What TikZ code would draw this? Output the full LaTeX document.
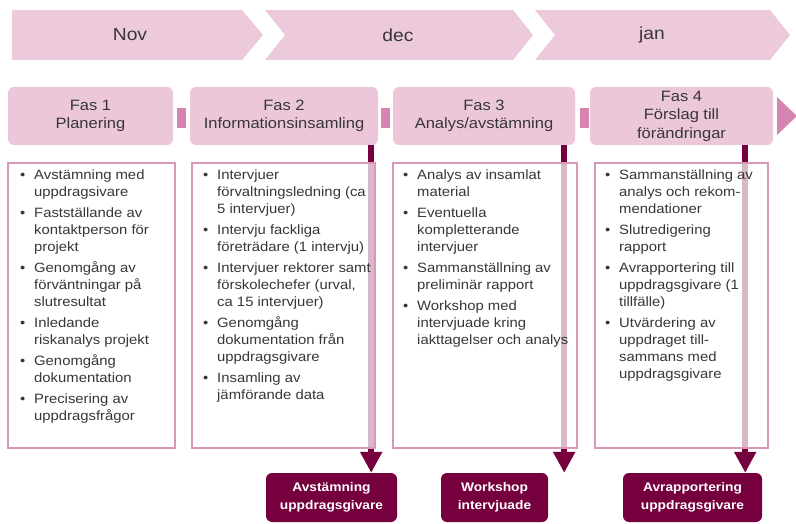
\documentclass[tikz,border=0pt]{standalone}
\usepackage{fontspec}
\setmainfont{Liberation Sans}[FakeStretch=1.1]
\usetikzlibrary{calc,arrows.meta}
\definecolor{chev}{RGB}{237,201,220}
\definecolor{phasecol}{RGB}{235,199,217}
\definecolor{conncol}{RGB}{214,132,176}
\definecolor{darkmaroon}{RGB}{118,0,62}
\definecolor{cborder}{RGB}{215,152,188}
\definecolor{txtgray}{RGB}{55,55,55}
\newcommand\bu{\makebox[14pt][l]{•}}
\newcommand\ind{\hspace*{14pt}}
\tikzset{
  phasebox/.style={fill=phasecol, rounded corners=6pt, minimum height=58pt, align=center,
    text=txtgray, font=\fontsize{15}{18.5}\selectfont, inner sep=0pt},
  connsq/.style={fill=conncol, minimum width=9pt, minimum height=20pt, inner sep=0pt},
  contentbox/.style={draw=cborder, line width=1.4pt, fill=white, fill opacity=0.72, inner sep=0pt},
  listtext/.style={anchor=north west, align=left, inner sep=0pt, text=txtgray,
    font=\fontsize{13.5}{17}\selectfont},
  milestone/.style={fill=darkmaroon, rounded corners=6pt, minimum height=49pt, align=center,
    text=white, font=\bfseries\fontsize{12.5}{17.5}\selectfont, inner sep=0pt},
  monthtext/.style={text=txtgray, font=\fontsize{17.5}{20}\selectfont, inner sep=0pt},
  msline/.style={draw=darkmaroon, line width=6pt, -{Triangle[width=21pt,length=21pt]}},
}
\begin{document}
\begin{tikzpicture}[x=1pt,y=-1pt]
\useasboundingbox (0,0) rectangle (796,524);
% month chevrons
\fill[chev] (12,10) -- (242,10) -- (263,35) -- (242,60) -- (12,60) -- cycle;
\fill[chev] (265,10) -- (513,10) -- (533,35) -- (513,60) -- (265,60) -- (285,35) -- cycle;
\fill[chev] (535,10) -- (770,10) -- (790,35) -- (770,60) -- (535,60) -- (555,35) -- cycle;
\node[monthtext] (nov) at (130,35) {Nov};
\node[monthtext] (dec) at (398,35) {dec};
\node[monthtext] (jan) at (652,35) {jan};
% milestones
\node[milestone, minimum width=131pt] (m2) at (331.5,497.5) {Avstämning\\uppdragsgivare};
\node[milestone, minimum width=107pt] (m3) at (494.5,497.5) {Workshop\\intervjuade};
\node[milestone, minimum width=139pt] (m4) at (692.5,497.5) {Avrapportering\\uppdragsgivare};
% phases
\node[phasebox, minimum width=165pt] (p1) at (90.5,116) {Fas 1\\Planering};
\node[phasebox, minimum width=188pt] (p2) at (284,116) {Fas 2\\Informationsinsamling};
\node[phasebox, minimum width=182pt] (p3) at (484,116) {Fas 3\\Analys/avstämning};
\node[phasebox, minimum width=183pt] (p4) at (681.5,116) {Fas 4\\Förslag till\\förändringar};
\node[connsq] (s12) at (181,118) {};
\node[connsq] (s23) at (385,118) {};
\node[connsq] (s34) at (584,118) {};
\fill[conncol] (777,97) -- (797,116) -- (777,135) -- cycle;
\coordinate (a2) at ($(p2.south east)+(-7,0)$);
\coordinate (a3) at ($(p3.south east)+(-11,0)$);
\coordinate (a4) at ($(p4.south east)+(-28,0)$);
\draw[msline] (a2) -- (a2 |- m2.north);
\draw[msline] (a3) -- (a3 |- m3.north);
\draw[msline] (a4) -- (a4 |- m4.north);
% content boxes
\node[contentbox, minimum width=167pt, minimum height=285pt] (c1) at (91.5,305.5) {};
\node[contentbox, minimum width=183pt, minimum height=285pt] (c2) at (283.5,305.5) {};
\node[contentbox, minimum width=184pt, minimum height=285pt] (c3) at (485,305.5) {};
\node[contentbox, minimum width=173pt, minimum height=285pt] (c4) at (681.5,305.5) {};
\node[listtext] (t1) at (20,170) {\bu Avstämning med\\ \ind uppdragsivare\\[4pt]
\bu Fastställande av\\ \ind kontaktperson för\\ \ind projekt\\[4pt]
\bu Genomgång av\\ \ind förväntningar på\\ \ind slutresultat\\[4pt]
\bu Inledande\\ \ind riskanalys projekt\\[4pt]
\bu Genomgång\\ \ind dokumentation\\[4pt]
\bu Precisering av\\ \ind uppdragsfrågor};
\node[listtext] (t2) at (203,170) {\bu Intervjuer\\ \ind förvaltningsledning (ca\\ \ind 5 intervjuer)\\[4pt]
\bu Intervju fackliga\\ \ind företrädare (1 intervju)\\[4pt]
\bu Intervjuer rektorer samt\\ \ind förskolechefer (urval,\\ \ind ca 15 intervjuer)\\[4pt]
\bu Genomgång\\ \ind dokumentation från\\ \ind uppdragsgivare\\[4pt]
\bu Insamling av\\ \ind jämförande data};
\node[listtext] (t3) at (403,170) {\bu Analys av insamlat\\ \ind material\\[4pt]
\bu Eventuella\\ \ind kompletterande\\ \ind intervjuer\\[4pt]
\bu Sammanställning av\\ \ind preliminär rapport\\[4pt]
\bu Workshop med\\ \ind intervjuade kring\\ \ind iakttagelser och analys};
\node[listtext] (t4) at (605,170) {\bu Sammanställning av\\ \ind analys och rekom-\\ \ind mendationer\\[4pt]
\bu Slutredigering\\ \ind rapport\\[4pt]
\bu Avrapportering till\\ \ind uppdragsgivare (1\\ \ind tillfälle)\\[4pt]
\bu Utvärdering av\\ \ind uppdraget till-\\ \ind sammans med\\ \ind uppdragsgivare};
\end{tikzpicture}
\end{document}
